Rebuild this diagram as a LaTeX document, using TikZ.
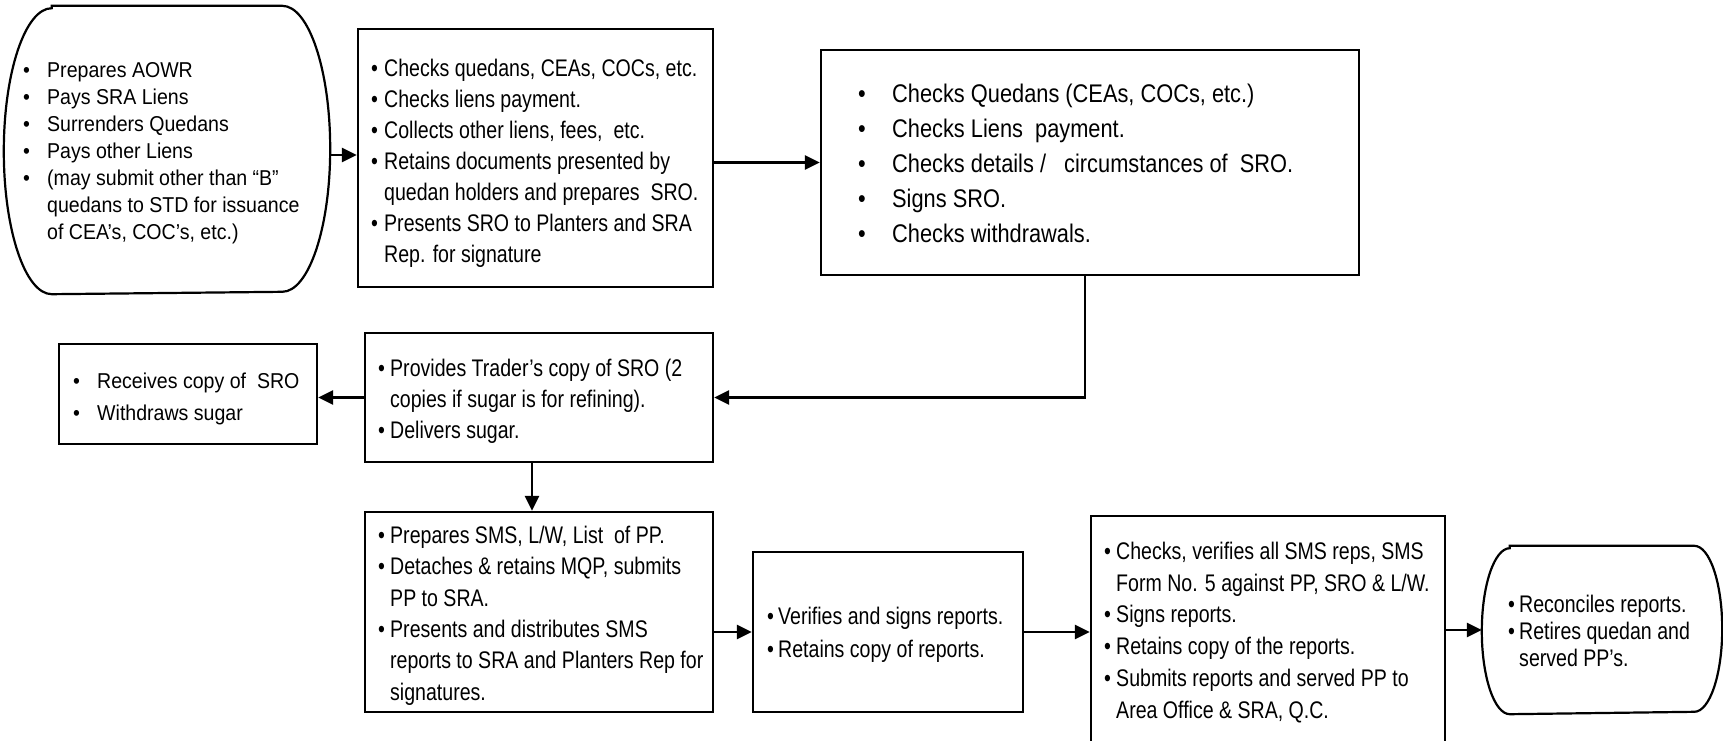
\documentclass[tikz,border=0pt]{standalone}
\usepackage{fontspec}
\setmainfont{Liberation Sans}
\newfontfamily\regf[FakeStretch=0.91]{Liberation Sans}
\newfontfamily\narf[FakeStretch=0.815]{Liberation Sans}
\newfontfamily\bigf[FakeStretch=0.855]{Liberation Sans}
\usetikzlibrary{arrows.meta}
\newcommand\fst{\rule{0pt}{0.8em}}
\newcommand\bl[1]{\makebox[#1][l]{\textbullet}}
\newcommand\ind[1]{\hspace*{#1}}
\begin{document}
\begin{tikzpicture}[x=1pt,y=1pt,
  box/.style={draw, line width=2.4pt, inner sep=0pt},
  term/.style={inner sep=0pt, outer sep=1.2pt},
  termline/.style={line width=2.2pt},
  txt/.style={anchor=north west, inner sep=0pt, align=left},
  arr/.style={line width=2.6pt, -{Triangle[length=15pt,width=14pt]}}]
\useasboundingbox (0,0) rectangle (1723,-741);
\clip (0,0) rectangle (1723,-741);

% ---- shapes ----
\node[term, minimum width=324pt, minimum height=286pt] (t1) at (167,-150) {};
\draw[termline] ([xshift=48pt]t1.north west) -- ([xshift=-48pt]t1.north east)
  arc[start angle=90, end angle=-90, x radius=48pt, y radius=143pt]
  -- ([xshift=48pt]t1.south west)
  arc[start angle=270, end angle=90, x radius=48pt, y radius=143pt] -- cycle;

\node[box, minimum width=355pt, minimum height=258pt] (b2) at (535.5,-158) {};
\node[box, minimum width=538pt, minimum height=225pt] (b3) at (1090,-162.5) {};
\node[box, minimum width=258pt, minimum height=100pt] (rc) at (188,-394) {};
\node[box, minimum width=348pt, minimum height=129pt] (pv) at (539,-397.5) {};
\node[box, minimum width=348pt, minimum height=200pt] (pr) at (539,-612) {};
\node[box, minimum width=270pt, minimum height=160pt] (vf) at (888,-632) {};
\node[box, minimum width=354pt, minimum height=254pt] (ck) at (1268,-643) {};

\node[term, minimum width=238pt, minimum height=166pt] (t2) at (1602,-630) {};
\draw[termline] ([xshift=28pt]t2.north west) -- ([xshift=-28pt]t2.north east)
  arc[start angle=90, end angle=-90, x radius=28pt, y radius=83pt]
  -- ([xshift=28pt]t2.south west)
  arc[start angle=270, end angle=90, x radius=28pt, y radius=83pt] -- cycle;

% ---- texts ----
\node[txt, font=\regf\fontsize{21.5}{27}\selectfont] (tx1) at (23,-59.8)
 {\fst\bl{24pt}Prepares AOWR\\
  \bl{24pt}Pays SRA Liens\\
  \bl{24pt}Surrenders Quedans\\
  \bl{24pt}Pays other Liens\\
  \bl{24pt}(may submit other than “B”\\
  \ind{24pt}quedans to STD for issuance\\
  \ind{24pt}of CEA’s, COC’s, etc.)};

\node[txt, font=\narf\fontsize{24}{31}\selectfont] (tx2) at (371,-56.8)
 {\fst\bl{13pt}Checks quedans, CEAs, COCs, etc.\\
  \bl{13pt}Checks liens payment.\\
  \bl{13pt}Collects other liens, fees, \ etc.\\
  \bl{13pt}Retains documents presented by\\
  \ind{13pt}quedan holders and prepares \ SRO.\\
  \bl{13pt}Presents SRO to Planters and SRA\\
  \ind{13pt}Rep. for signature};

\node[txt, font=\bigf\fontsize{25.5}{35}\selectfont] (tx3) at (858,-81.6)
 {\fst\bl{34pt}Checks Quedans (CEAs, COCs, etc.)\\
  \bl{34pt}Checks Liens \ payment.\\
  \bl{34pt}Checks details / \ \ circumstances of \ SRO.\\
  \bl{34pt}Signs SRO.\\
  \bl{34pt}Checks withdrawals.};

\node[txt, font=\regf\fontsize{21.5}{32}\selectfont] (tx4) at (73,-371.3)
 {\fst\bl{24pt}Receives copy of \ SRO\\
  \bl{24pt}Withdraws sugar};

\node[txt, font=\narf\fontsize{24}{31}\selectfont] (tx5) at (378,-356.8)
 {\fst\bl{12pt}Provides Trader’s copy of SRO (2\\
  \ind{12pt}copies if sugar is for refining).\\
  \bl{12pt}Delivers sugar.};

\node[txt, font=\narf\fontsize{24}{31.4}\selectfont] (tx6) at (378,-523.8)
 {\fst\bl{12pt}Prepares SMS, L/W, List \ of PP.\\
  \bl{12pt}Detaches \& retains MQP, submits\\
  \ind{12pt}PP to SRA.\\
  \bl{12pt}Presents and distributes SMS\\
  \ind{12pt}reports to SRA and Planters Rep for\\
  \ind{12pt}signatures.};

\node[txt, font=\narf\fontsize{24}{33}\selectfont] (tx7) at (767,-604.8)
 {\fst\bl{11pt}Verifies and signs reports.\\
  \bl{11pt}Retains copy of reports.};

\node[txt, font=\narf\fontsize{24}{31.8}\selectfont] (tx8) at (1104,-539.8)
 {\fst\bl{12pt}Checks, verifies all SMS reps, SMS\\
  \ind{12pt}Form No. 5 against PP, SRO \& L/W.\\
  \bl{12pt}Signs reports.\\
  \bl{12pt}Retains copy of the reports.\\
  \bl{12pt}Submits reports and served PP to\\
  \ind{12pt}Area Office \& SRA, Q.C.};

\node[txt, font=\narf\fontsize{24}{27}\selectfont] (tx9) at (1508,-592.8)
 {\fst\bl{11pt}Reconciles reports.\\
  \bl{11pt}Retires quedan and\\
  \ind{11pt}served PP’s.};

% ---- connectors ----
\draw[arr] ([yshift=-5pt]t1.east) -- ([yshift=-5pt]t1.east -| b2.west);
\draw[arr] (b3.west -| b2.east) -- (b3.west);
\draw[arr] ([xshift=-5pt]b3.south) |- (pv.east);
\draw[arr] (pv.west) -- (pv.west -| rc.east);
\draw[arr] ([xshift=-7pt]pv.south) -- ([xshift=-7pt]pv.south |- pr.north);
\draw[arr] (vf.west -| pr.east) -- (vf.west);
\draw[arr] (vf.east) -- (vf.east -| ck.west);
\draw[arr] (t2.west -| ck.east) -- (t2.west);
\end{tikzpicture}
\end{document}
